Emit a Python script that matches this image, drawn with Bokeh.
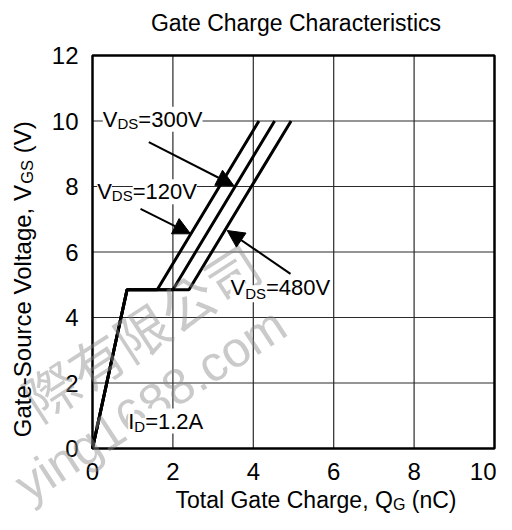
import math
from bokeh.plotting import figure
from bokeh.models import Range1d, FixedTicker, Label, Arrow, NormalHead
from bokeh.embed import file_html
from bokeh.resources import INLINE

# ---------------- data ----------------
qg_120 = [0.0, 0.86, 1.61, 4.14]
vgs_120 = [0.0, 4.85, 4.85, 10.0]
qg_300 = [0.0, 0.86, 2.00, 4.53]
vgs_300 = [0.0, 4.85, 4.85, 10.0]
qg_480 = [0.0, 0.86, 2.40, 4.94]
vgs_480 = [0.0, 4.85, 4.85, 10.0]
x_ticks = [0, 2, 4, 6, 8, 10]
y_ticks = [0, 2, 4, 6, 8, 10, 12]
series_names = ["=120V", "=300V", "=480V"]
title_text = "Gate Charge Characteristics"
id_text = "=1.2A"

FONT = "Liberation Sans"
CW, CH = 496, 514                           # canvas size
FL, FT, FW, FH = 92.0, 55.0, 402.0, 393.0   # plot box in canvas pixels
XMAX, YMAX = x_ticks[-1], y_ticks[-1]
PXX, PXY = FW / XMAX, FH / YMAX
MID = 0.35                                  # baseline lies this many em below the middle

# The frame spans the whole canvas, so that texts around the plot box are not clipped.
x_range = Range1d(-FL / PXX, (CW - FL) / PXX)
y_range = Range1d(-(CH - FT - FH) / PXY, YMAX + FT / PXY)

p = figure(width=CW, height=CH, x_range=x_range, y_range=y_range,
           output_backend="svg", toolbar_location=None,
           min_border_left=0, min_border_right=0, min_border_top=0, min_border_bottom=0)
p.title.visible = False
p.background_fill_color = "white"
p.border_fill_color = "white"
p.outline_line_color = None
p.xgrid.visible = False
p.ygrid.visible = False

p.xaxis.ticker = FixedTicker(ticks=x_ticks)
p.yaxis.ticker = FixedTicker(ticks=y_ticks)
p.xaxis.fixed_location = 0
p.yaxis.fixed_location = 0
for ax in (p.xaxis, p.yaxis):
    ax.major_label_text_font = FONT
    ax.major_label_text_font_size = "24px"
    ax.major_label_text_color = "black"
    ax.major_tick_line_color = None
    ax.minor_tick_line_color = None
    ax.axis_line_color = None
p.xaxis.major_label_standoff = 8
p.yaxis.major_label_standoff = 8

# grid lines (inner ticks only) and the plot box
gx = x_ticks[1:-1]
gy = y_ticks[1:-1]
p.segment(x0=gx, y0=[y_ticks[0]] * len(gx), x1=gx, y1=[YMAX] * len(gx),
          line_color="#2a2a2a", line_width=1.2)
p.segment(x0=[x_ticks[0]] * len(gy), y0=gy, x1=[XMAX] * len(gy), y1=gy,
          line_color="#2a2a2a", line_width=1.2)
p.quad(left=[x_ticks[0]], right=[XMAX], bottom=[y_ticks[0]], top=[YMAX],
       fill_color=None, line_color="black", line_width=2.5)

for q, v in ((qg_120, vgs_120), (qg_300, vgs_300), (qg_480, vgs_480)):
    p.line(q, v, line_color="black", line_width=3)

# --------------- helpers for text placement ----------------
W = {' ': 278, '(': 333, ')': 333, ',': 278, '-': 333, '.': 278, '=': 584,
     'A': 667, 'C': 722, 'D': 722, 'G': 778, 'I': 278, 'Q': 778, 'S': 667,
     'T': 611, 'V': 667, 'a': 556, 'c': 500, 'e': 556, 'g': 556, 'h': 556,
     'i': 222, 'l': 222, 'n': 556, 'o': 556, 'r': 333, 's': 500, 't': 278,
     'u': 556, 'y': 500, 'm': 833}
for d in "0123456789":
    W[d] = 556


def tw(s, size):
    return sum(W.get(c, 556) for c in s) / 1000.0 * size


def dx(px):
    return (px - FL) / PXX


def dy(py):
    return (FT + FH - py) / PXY


def lab(x, y, text, size, **kw):
    opts = dict(x=dx(x), y=dy(y), text=text,
                text_font=FONT, text_font_size=f"{size}px", text_align="left",
                text_baseline="middle", text_color="black")
    opts.update(kw)
    l = Label(**opts)
    p.add_layout(l)
    return l


def run(pieces, x0, base, bg=False):
    """Horizontal run of text pieces (text, size, baseline shift, kerning adjust)."""
    x = x0
    for text, size, shift, kern in pieces:
        stripped = text.lstrip(" ")
        x += tw(text[:len(text) - len(stripped)], size) + kern
        extra = {"background_fill_color": "white"} if bg else {}
        lab(x, base + shift - MID * size, stripped, size, **extra)
        x += tw(stripped, size)


def vrun(pieces, xb, y0):
    """Run rotated by 90 degrees (reading upwards); xb = baseline x in canvas px."""
    y = y0
    for text, size, shift, kern in pieces:
        stripped = text.lstrip(" ")
        y -= tw(text[:len(text) - len(stripped)], size) + kern
        lab(xb + shift - MID * size, y, stripped, size, angle=math.pi / 2)
        y -= tw(stripped, size)


# watermark (drawn first, faint)
ang = math.radians(33)
lab(140, 330, "際有限公司", 54, text_font="Noto Sans CJK TC", text_align="center",
    text_color="#8a8a8a", text_alpha=0.45, angle=ang)
lab(150, 404, "ying1688.com", 50, text_align="center",
    text_color="#8a8a8a", text_alpha=0.45, angle=ang)

# series labels
run([("V", 22, 0, 0), ("DS", 15, 1.5, 0), (series_names[1], 22, 0, 0)], 102.3, 126.5, bg=True)
run([("V", 22, 0, 0), ("DS", 15, 1.5, 0), (series_names[0], 22, 0, 0)], 96.7, 199.0, bg=True)
run([("V", 22, 0, 0), ("DS", 15, 4.0, 0), (series_names[2], 22, 0, 0)], 230.0, 294.5, bg=True)
run([("I", 22, 0, 0), ("D", 15, 3.0, 0), (id_text, 22, 0, 0)], 127.7, 428.3, bg=True)

# arrows
for (x0, y0, x1, y1) in ((148.3, 141.7, 233.3, 185.0),
                         (140.0, 208.3, 190.0, 233.3),
                         (290.0, 273.3, 226.7, 230.0)):
    p.add_layout(Arrow(end=NormalHead(size=17, fill_color="black", line_color="black"),
                       x_start=dx(x0), y_start=dy(y0), x_end=dx(x1), y_end=dy(y1),
                       line_color="black", line_width=2))

# title
lab(295.5, 30.7 - MID * 23, title_text, 23, text_align="center")

# axis labels
run([("Total Gate Charge, Q", 23, 0, 0), ("G", 16, 2.0, -2.5), (" (nC)", 23, 0, 0)], 175.0, 508.0)
vrun([("Gate-Source Voltage, V", 24, 0, 0), ("GS", 16.5, 2.0, 0), (" (V)", 24, 0, 0)], 30.5, 436.7)

open("out.html", "w").write(file_html(p, INLINE))
